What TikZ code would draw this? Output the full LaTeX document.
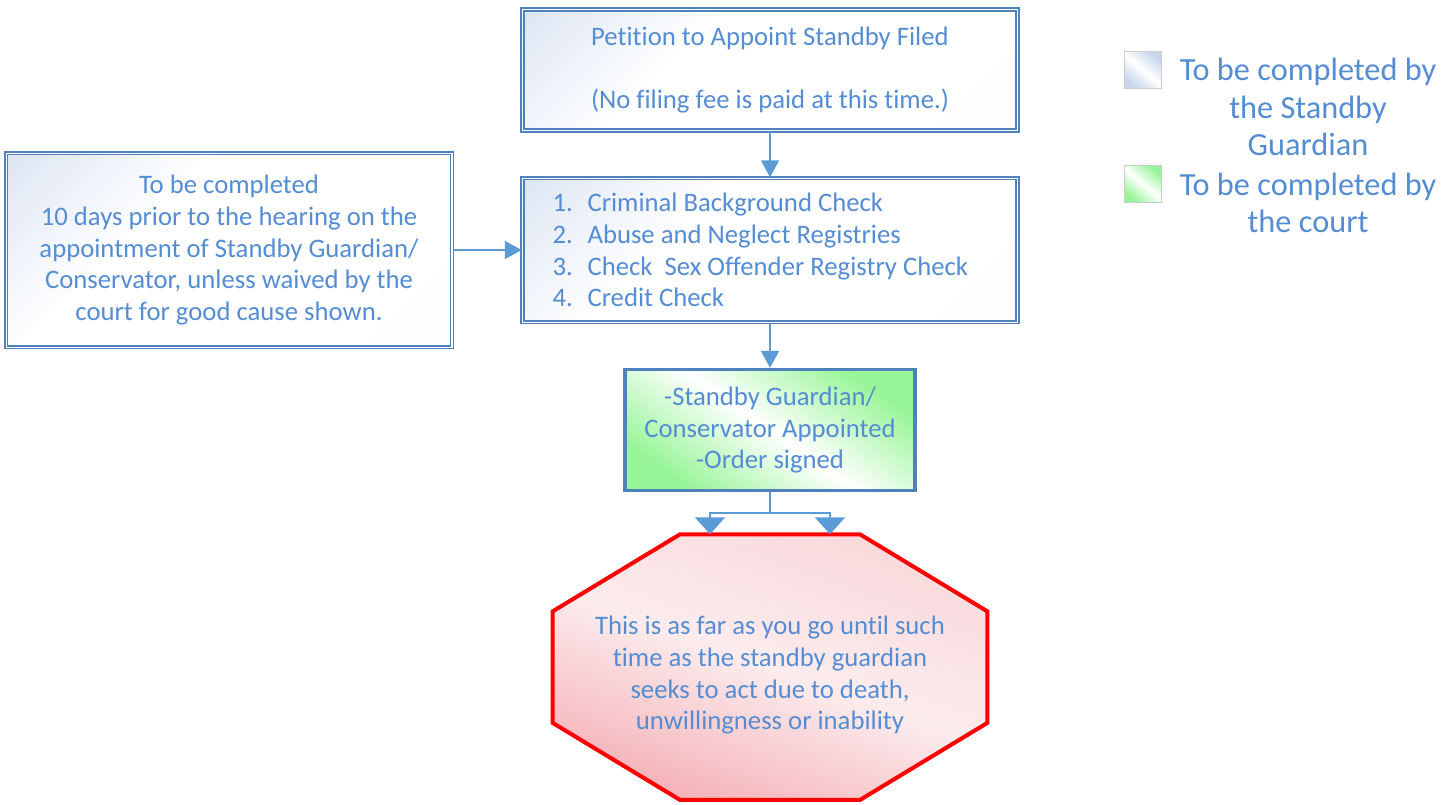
\documentclass[tikz,border=0pt]{standalone}
\usepackage{fontspec}
\setmainfont{Carlito}[Ligatures=NoCommon]
\usepackage{tikz}
\usetikzlibrary{positioning, calc, arrows.meta}
\definecolor{txtblue}{RGB}{84,141,212}
\definecolor{lineblue}{RGB}{79,129,189}
\definecolor{arrowblue}{RGB}{91,155,213}
\definecolor{paleblue}{RGB}{200,214,236}
\definecolor{palegreen}{RGB}{150,245,150}
\definecolor{palered}{RGB}{244,178,184}
\pgfdeclareverticalshading{cornerblue}{100bp}{color(0bp)=(white!96!paleblue); color(35bp)=(white); color(62bp)=(white); color(100bp)=(paleblue)}
\tikzset{standby/.style={rectangle, minimum width=9.9cm, minimum height=2.42cm, align=center, text=txtblue, draw=lineblue, double=white, double distance=0.6pt, line width=0.9pt, shading=cornerblue, shading angle=45, font=\fontsize{15.2}{18.1}\selectfont},
         court/.style={rectangle, minimum width=5.8cm, minimum height=2.42cm, align=center, text=txtblue, draw=lineblue, line width=2pt, top color=palegreen, bottom color=palegreen, middle color=white, shading angle=-35, font=\fontsize{15.2}{18.1}\selectfont},
         stopsign/.style={rectangle, minimum width=8.68cm, minimum height=5.3cm, align=center, text=txtblue, font=\fontsize{15.2}{18.1}\selectfont},
         legendbox/.style={rectangle, minimum size=0.74cm, draw=black!20, line width=0.6pt},
         legendtext/.style={align=center, text=txtblue, font=\fontsize{18.4}{21.3}\selectfont},
         flow/.style={draw=arrowblue, line width=1.1pt, -{Triangle[width=0.36cm, length=0.34cm]}},
         split/.style={draw=arrowblue, line width=1pt, -{Triangle[width=0.6cm, length=0.34cm]}}}

\begin{document}
\begin{tikzpicture}[x=0.02cm, y=-0.02cm, node distance=0.92cm]
        \useasboundingbox (0,0) rectangle (1452,804);

        \node (petition)[standby] at (770,70) {Petition to Appoint Standby Filed\\[0.64cm](No filing fee is paid at this time.)};

        \node (checks)[standby, minimum height=2.88cm, text width=8.7cm, align=flush left, below=of petition]{%
            \makebox[0.7cm][l]{1.}Criminal Background Check\\
            \makebox[0.7cm][l]{2.}Abuse and Neglect Registries\\
            \makebox[0.7cm][l]{3.}Check\ \ Sex Offender Registry Check\\
            \makebox[0.7cm][l]{4.}Credit Check};
        \draw [flow] (petition) -- (checks);

        \node (hearing)[standby, minimum width=8.92cm, minimum height=3.88cm, left=1.38cm of checks]{To be completed\\10 days prior to the hearing on the\\appointment of Standby Guardian/\\Conservator, unless waived by the\\court for good cause shown.};
        \draw [flow] (hearing) -- (checks);

        \node (appointed)[court, below=0.9cm of checks]{-Standby Guardian/\\Conservator Appointed\\-Order signed};
        \draw [flow] (checks) -- (appointed);

        \node (stop)[stopsign, below=0.84cm of appointed]{};
        \draw [draw=red, line width=2.3pt, top color=palered!50, bottom color=palered, middle color=white!75!palered, shading angle=-20]
            ($(stop.north west)!0.293!(stop.north east)$) -- ($(stop.north west)!0.707!(stop.north east)$)
            -- ($(stop.north east)!0.29!(stop.south east)$) -- ($(stop.north east)!0.71!(stop.south east)$)
            -- ($(stop.south west)!0.707!(stop.south east)$) -- ($(stop.south west)!0.293!(stop.south east)$)
            -- ($(stop.north west)!0.71!(stop.south west)$) -- ($(stop.north west)!0.29!(stop.south west)$) -- cycle;
        \node (stoptext)[stopsign, minimum height=0pt] at ([yshift=-0.16cm]stop.center) {This is as far as you go until such\\time as the standby guardian\\seeks to act due to death,\\unwillingness or inability};

        \coordinate (fork) at ([yshift=-0.42cm]appointed.south);
        \draw [draw=arrowblue, line width=1pt] (appointed) -- (fork);
        \draw [split] (fork) -| ([xshift=-1.2cm]stop.north);
        \draw [split] (fork) -| ([xshift=1.2cm]stop.north);

        \node (keyblue)[legendbox, top color=paleblue, bottom color=paleblue, middle color=white, shading angle=-40] at (1143,70) {};
        \node (keybluetext)[legendtext] at (1308,107) {To be completed by\\the Standby\\Guardian};
        \node (keygreen)[legendbox, top color=palegreen, bottom color=palegreen, middle color=white, shading angle=-40] at (1143,184) {};
        \node (keygreentext)[legendtext] at (1308,203) {To be completed by\\the court};
    \end{tikzpicture}
\end{document}
